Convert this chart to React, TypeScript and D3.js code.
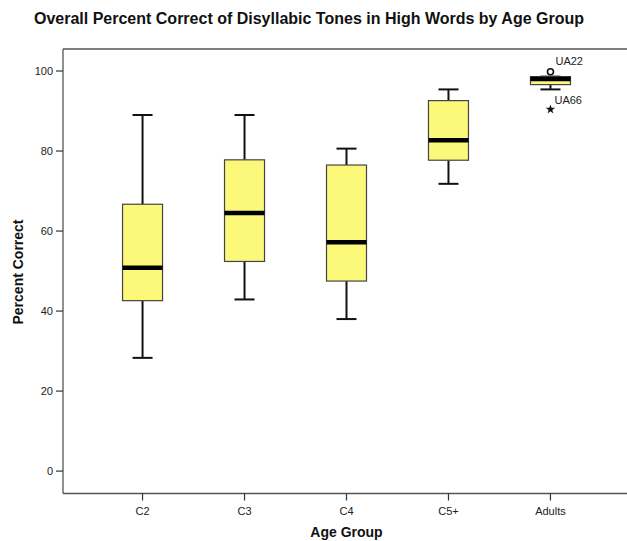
import React from "react";
import * as d3 from "d3";

// Age groups and five-number summaries (percent correct)
const categories = ["C2", "C3", "C4", "C5+", "Adults"];
const whiskerLow = [28.3, 42.9, 38.0, 71.8, 95.4];
const q1 = [42.6, 52.4, 47.5, 77.7, 96.6];
const median = [50.8, 64.5, 57.2, 82.7, 98.0];
const q3 = [66.7, 77.8, 76.5, 92.6, 98.6];
const whiskerHigh = [89.0, 89.0, 80.6, 95.4, 98.6];

// Outliers (circle) and extreme values (star)
const outlierGroups = ["Adults"];
const outlierValues = [99.8];
const outlierLabels = ["UA22"];
const extremeGroups = ["Adults"];
const extremeValues = [90.4];
const extremeLabels = ["UA66"];

const yTicks = [0, 20, 40, 60, 80, 100];

const W = 627;
const H = 541;
const plot = { left: 63, right: 630, top: 49, bottom: 493.5 };
const font = "'Liberation Sans', Arial, sans-serif";

export default function App() {
  const x = d3
    .scalePoint<string>()
    .domain(categories)
    .range([plot.left, plot.right])
    .padding(0.78);
  const y = d3.scaleLinear().domain([-5.6, 105.5]).range([plot.bottom, plot.top]);

  const boxW = 40;
  const capW = 20;
  const star = d3.symbol(d3.symbolStar, 28)();
  const axisColor = "#555";

  return (
    <svg
      width={W}
      height={H}
      style={{ position: "absolute", left: 0, top: 0, background: "#fff" }}
      fontFamily={font}
    >
      <rect x={0} y={0} width={W} height={H} fill="#fff" />
      <text
        x={309}
        y={24}
        textAnchor="middle"
        fontSize={16}
        fontWeight="bold"
        fill="#111"
      >
        Overall Percent Correct of Disyllabic Tones in High Words by Age Group
      </text>

      {/* frame: top, left and bottom edges */}
      <line x1={plot.left} x2={plot.right} y1={plot.top} y2={plot.top} stroke={axisColor} strokeWidth={1.3} />
      <line x1={plot.left} x2={plot.left} y1={plot.top} y2={plot.bottom} stroke={axisColor} strokeWidth={1.3} />
      <line x1={plot.left} x2={plot.right} y1={plot.bottom} y2={plot.bottom} stroke={axisColor} strokeWidth={1.3} />

      {/* y axis ticks */}
      {yTicks.map((t) => (
        <g key={t}>
          <line x1={plot.left - 7} x2={plot.left} y1={y(t)} y2={y(t)} stroke="#333" strokeWidth={1.2} />
          <text x={plot.left - 10} y={y(t) + 4} textAnchor="end" fontSize={11} fill="#222">
            {t}
          </text>
        </g>
      ))}

      {/* x axis ticks */}
      {categories.map((c) => (
        <g key={c}>
          <line x1={x(c)} x2={x(c)} y1={plot.bottom} y2={plot.bottom + 7} stroke="#333" strokeWidth={1.2} />
          <text x={x(c)} y={plot.bottom + 21} textAnchor="middle" fontSize={11} fill="#222">
            {c}
          </text>
        </g>
      ))}

      <text x={346.5} y={537} textAnchor="middle" fontSize={14} fontWeight="bold" fill="#111">
        Age Group
      </text>
      <text
        transform={`translate(23,272) rotate(-90)`}
        textAnchor="middle"
        fontSize={14}
        fontWeight="bold"
        fill="#111"
      >
        Percent Correct
      </text>

      {/* boxes */}
      {categories.map((c, i) => {
        const cx = x(c) as number;
        return (
          <g key={c}>
            <line x1={cx} x2={cx} y1={y(whiskerHigh[i])} y2={y(q3[i])} stroke="#111" strokeWidth={2} />
            <line x1={cx} x2={cx} y1={y(q1[i])} y2={y(whiskerLow[i])} stroke="#111" strokeWidth={2} />
            <line x1={cx - capW / 2} x2={cx + capW / 2} y1={y(whiskerHigh[i])} y2={y(whiskerHigh[i])} stroke="#111" strokeWidth={2} />
            <line x1={cx - capW / 2} x2={cx + capW / 2} y1={y(whiskerLow[i])} y2={y(whiskerLow[i])} stroke="#111" strokeWidth={2} />
            <rect
              x={cx - boxW / 2}
              y={y(q3[i])}
              width={boxW}
              height={y(q1[i]) - y(q3[i])}
              fill="#FBF87A"
              stroke="#444"
              strokeWidth={1.2}
            />
            <line x1={cx - boxW / 2} x2={cx + boxW / 2} y1={y(median[i])} y2={y(median[i])} stroke="#000" strokeWidth={4.5} />
          </g>
        );
      })}

      {/* outliers */}
      {outlierGroups.map((g, i) => {
        const cx = x(g) as number;
        const cy = y(outlierValues[i]);
        return (
          <g key={"o" + i}>
            <circle cx={cx} cy={cy} r={3} fill="none" stroke="#111" strokeWidth={1.6} />
            <text x={cx + 5} y={cy - 7} fontSize={11} fill="#222">
              {outlierLabels[i]}
            </text>
          </g>
        );
      })}
      {extremeGroups.map((g, i) => {
        const cx = x(g) as number;
        const cy = y(extremeValues[i]);
        return (
          <g key={"e" + i}>
            <path d={star as string} transform={`translate(${cx},${cy})`} fill="#111" />
            <text x={cx + 4} y={cy - 5} fontSize={11} fill="#222">
              {extremeLabels[i]}
            </text>
          </g>
        );
      })}
    </svg>
  );
}
